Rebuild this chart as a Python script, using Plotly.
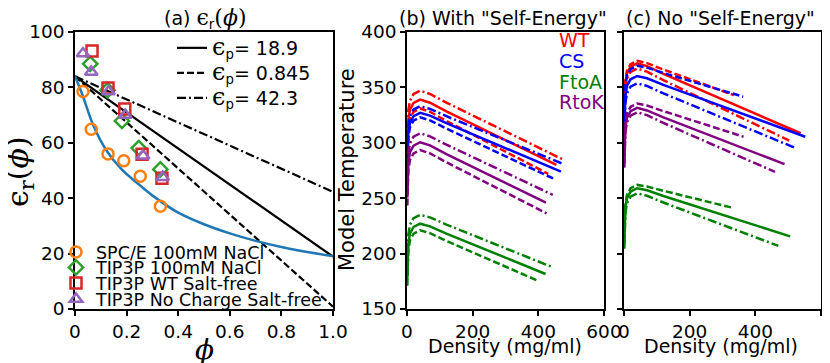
import plotly.graph_objects as go

# the page puts the figure 8px in from the top-left corner of the window
OFF = 8
W, H = 830 - OFF, 363 - OFF

# ---- panel (a): dielectric constant vs phi ----
line_phi = [0.0, 1.0]
eps_p_labels = ["18.9", "0.845", "42.3"]
eps_lines = [[84.0, 18.9], [84.0, 0.845], [84.0, 42.3]]

curve_phi = [0.0, 0.03, 0.07, 0.12, 0.18, 0.25, 0.31, 0.40, 0.50, 0.60, 0.70, 0.80, 0.90, 1.0]
curve_eps = [84.0, 77.0, 66.5, 57.5, 50.5, 44.8, 40.3, 34.8, 30.6, 27.3, 24.6, 22.4, 20.6, 19.1]

spce_phi = [0.031, 0.063, 0.128, 0.189, 0.253, 0.331]
spce_eps = [78.5, 64.9, 56.0, 53.5, 47.9, 37.1]
tip3_phi = [0.059, 0.126, 0.182, 0.247, 0.331]
tip3_eps = [88.5, 79.0, 67.9, 58.1, 50.4]
wt_free_phi = [0.066, 0.128, 0.193, 0.260, 0.337]
wt_free_eps = [93.1, 79.8, 72.2, 55.9, 47.2]
nc_free_phi = [0.031, 0.063, 0.130, 0.195, 0.264, 0.340]
nc_free_eps = [92.2, 85.6, 78.5, 70.0, 55.3, 47.6]

# ---- panels (b) and (c): model temperature vs density ----
density_head = [1, 2, 4, 9, 20, 40, 70, 120]

# each list: solid, dashed, dash-dot ; last value sits at the end density
with_wt_T = [[289, 307, 321, 330, 336, 339, 336.2, 328.3, 280],
             [281, 299, 313, 322, 328, 331, 328, 319.7, 272],
             [297, 315, 329, 338, 344, 347, 344.1, 336.3, 284.5]]
with_wt_end = [455, 430, 478]
with_cs_T = [[277, 295, 309, 318, 324, 327, 324.5, 317.7, 274],
             [273, 291, 305, 314, 320, 323, 320.3, 312.8, 267],
             [283, 301, 315, 324, 330, 333, 330.6, 324, 281.5]]
with_cs_end = [469, 451, 471]
with_ftoa_T = [[177, 195, 209, 218, 224, 227, 224.6, 218.1, 181.6],
               [171, 189, 203, 212, 218, 221, 218.5, 211.5, 176],
               [185, 203, 217, 226, 232, 235, 232.7, 226.2, 188]]
with_ftoa_end = [422, 395, 441]
with_rtok_T = [[250.5, 268.5, 282.5, 291.5, 297.5, 300.5, 297.7, 289.8, 246],
               [243.5, 261.5, 275.5, 284.5, 290.5, 293.5, 290.5, 282.4, 236.4],
               [258.6, 276.6, 290.6, 299.6, 305.6, 308.6, 305.8, 298.3, 253]]
with_rtok_end = [423, 425, 444]

no_wt_T = [[321.7, 339.7, 353.7, 362.7, 368.7, 371.7, 369.2, 362.2, 308.6],
           [324, 342, 356, 365, 371, 374, 371.9, 366.1, 343],
           [317, 335, 349, 358, 364, 367, 364.2, 356.5, 302]]
no_wt_end = [538, 335, 503]
no_cs_T = [[310.3, 328.3, 342.3, 351.3, 357.3, 360.3, 358.2, 352.3, 305.5],
           [319.5, 337.5, 351.5, 360.5, 366.5, 369.5, 367.8, 363, 341.6],
           [303.7, 321.7, 335.7, 344.7, 350.7, 353.7, 351.3, 344.6, 295.3]]
no_cs_end = [552, 363, 522]
no_ftoa_T = [[209, 227, 241, 250, 256, 259, 257.1, 252, 215.6],
             [212, 230, 244, 253, 259, 262, 260.6, 256.7, 241.3],
             [204.4, 222.4, 236.4, 245.4, 251.4, 254.4, 252.2, 246.1, 207]]
no_ftoa_end = [506, 331, 470]
no_rtok_T = [[281.5, 299.5, 313.5, 322.5, 328.5, 331.5, 329.2, 323, 280.7],
             [285.5, 303.5, 317.5, 326.5, 332.5, 335.5, 333.6, 328.6, 305.5],
             [277.5, 295.5, 309.5, 318.5, 324.5, 327.5, 325, 317.9, 273.7]]
no_rtok_end = [489, 364, 460]

proteins = ["WT", "CS", "FtoA", "RtoK"]
protein_colors = ["red", "blue", "green", "purple"]

DASH = "7px,3px"
DASHDOT = "9px,3px,2px,3px"
line_dashes = ["solid", DASH, DASHDOT]

FONT = "DejaVu Sans"
MATH = "DejaVu Serif"
FS = 19

fig = go.Figure()

# panel (a) lines, one legend box per row
for i, (lab, eps, dash) in enumerate(zip(eps_p_labels, eps_lines, line_dashes)):
    fig.add_trace(go.Scatter(
        x=line_phi, y=eps, mode="lines",
        line=dict(color="black", width=2.2, dash=dash),
        name=f"<span style='font-family:{MATH};font-size:24px'>ϵ</span><sub>p</sub>= {lab}",
        legend=f"legend{i + 6}", xaxis="x", yaxis="y",
    ))

fig.add_trace(go.Scatter(
    x=curve_phi, y=curve_eps, mode="lines", line_shape="spline",
    line=dict(color="#1f77b4", width=2.5), showlegend=False,
    xaxis="x", yaxis="y",
))

marker_sets = [
    (spce_phi, spce_eps, "circle-open", "#ff7f0e", "SPC/E 100mM NaCl"),
    (tip3_phi, tip3_eps, "diamond-open", "#2ca02c", "TIP3P 100mM NaCl"),
    (wt_free_phi, wt_free_eps, "square-open", "#d62728", "TIP3P WT Salt-free"),
    (nc_free_phi, nc_free_eps, "triangle-up-open", "#9467bd", "TIP3P No Charge Salt-free"),
]
for i, (px_, py_, sym, col, name) in enumerate(marker_sets):
    fig.add_trace(go.Scatter(
        x=px_, y=py_, mode="markers", name=name,
        marker=dict(symbol=sym, size=11, color=col, line=dict(color=col, width=2.5)),
        legend=f"legend{i + 2}", xaxis="x", yaxis="y",
    ))

# panels (b) and (c)
panels = [
    ("x2", "y2", [with_wt_T, with_cs_T, with_ftoa_T, with_rtok_T],
     [with_wt_end, with_cs_end, with_ftoa_end, with_rtok_end]),
    ("x3", "y3", [no_wt_T, no_cs_T, no_ftoa_T, no_rtok_T],
     [no_wt_end, no_cs_end, no_ftoa_end, no_rtok_end]),
]
for xa, ya, temps, ends in panels:
    for prot, col, tset, eset in zip(proteins, protein_colors, temps, ends):
        for T, end, dash in zip(tset, eset, line_dashes):
            fig.add_trace(go.Scatter(
                x=density_head + [end], y=T, mode="lines",
                line=dict(color=col, width=2.5, dash=dash),
                showlegend=False, name=prot, xaxis=xa, yaxis=ya,
            ))


def px_x(p):
    return (p - OFF) / W


def px_y(p):
    return 1 - (p - OFF) / H


axis_common = dict(
    showline=True, linecolor="black", linewidth=1.5, mirror=True,
    ticks="outside", ticklen=5, tickwidth=1.5, tickcolor="black",
    showgrid=False, zeroline=False,
    tickfont=dict(family=FONT, size=18.5, color="black"),
)
ydom = [px_y(309), px_y(32)]

fig.update_layout(
    width=W, height=H,
    margin=dict(l=0, r=0, t=0, b=0, autoexpand=False),
    paper_bgcolor="white", plot_bgcolor="white",
    font=dict(family=FONT, size=FS, color="black"),
    xaxis=dict(axis_common, domain=[px_x(75), px_x(333)], range=[0, 1],
               tickvals=[0, 0.2, 0.4, 0.6, 0.8, 1.0],
               ticktext=["0", "0.2", "0.4", "0.6", "0.8", "1.0"]),
    yaxis=dict(axis_common, domain=ydom, range=[0, 100], tickvals=[0, 20, 40, 60, 80, 100]),
    xaxis2=dict(axis_common, domain=[px_x(407), px_x(604)], range=[0, 600],
                tickvals=[0, 200, 400, 600], anchor="y2"),
    yaxis2=dict(axis_common, domain=ydom, range=[150, 400],
                tickvals=[150, 200, 250, 300, 350, 400], anchor="x2"),
    xaxis3=dict(axis_common, domain=[px_x(624), px_x(821)], range=[0, 600],
                tickvals=[0, 200, 400, 600], anchor="y3"),
    yaxis3=dict(axis_common, domain=ydom, range=[150, 400],
                tickvals=[150, 200, 250, 300, 350, 400], showticklabels=False, anchor="x3"),
)

marker_rows = [252, 267.5, 283, 299]
for i, row in enumerate(marker_rows):
    fig.update_layout({f"legend{i + 2}": dict(
        x=px_x(56), y=px_y(row), xanchor="left", yanchor="middle",
        bgcolor="rgba(0,0,0,0)", font=dict(size=17.5),
    )})
line_rows = [48, 73, 98]
for i, row in enumerate(line_rows):
    fig.update_layout({f"legend{i + 6}": dict(
        x=px_x(172), y=px_y(row), xanchor="left", yanchor="middle",
        bgcolor="rgba(0,0,0,0)", font=dict(size=FS),
    )})

annotations = [
    dict(x=px_x(205), y=px_y(19),
         text=f"(a) <span style='font-family:{MATH};font-size:22px'>ϵ</span><sub>r</sub>"
              f"<span style='font-family:{MATH};font-size:22px'>(<i>ϕ</i>)</span>"),
    dict(x=px_x(503), y=px_y(18), text='(b) With "Self-Energy"'),
    dict(x=px_x(720), y=px_y(18), text='(c) No "Self-Energy"'),
    dict(x=px_x(204), y=px_y(349), text="<i>ϕ</i>", font=dict(family=MATH, size=28)),
    dict(x=px_x(505), y=px_y(346), text="Density (mg/ml)"),
    dict(x=px_x(721), y=px_y(346), text="Density (mg/ml)"),
    dict(x=px_x(347), y=px_y(170), text="Model Temperature", textangle=-90, font=dict(size=21)),
    dict(x=px_x(19), y=px_y(172), text="ϵ<sub>r</sub>(<i>ϕ</i>)", textangle=-90,
         font=dict(family=MATH, size=30)),
]
for prot, col, row in zip(proteins, protein_colors, [40, 61, 82, 102]):
    annotations.append(dict(x=px_x(557), y=px_y(row), text=prot, xanchor="left",
                            font=dict(size=FS, color=col)))
for a in annotations:
    a.setdefault("xref", "paper")
    a.setdefault("yref", "paper")
    a.setdefault("xanchor", "center")
    a.setdefault("yanchor", "middle")
    a.setdefault("showarrow", False)
    a.setdefault("font", dict(size=FS))
fig.update_layout(annotations=annotations)

fig.write_html("out.html")
